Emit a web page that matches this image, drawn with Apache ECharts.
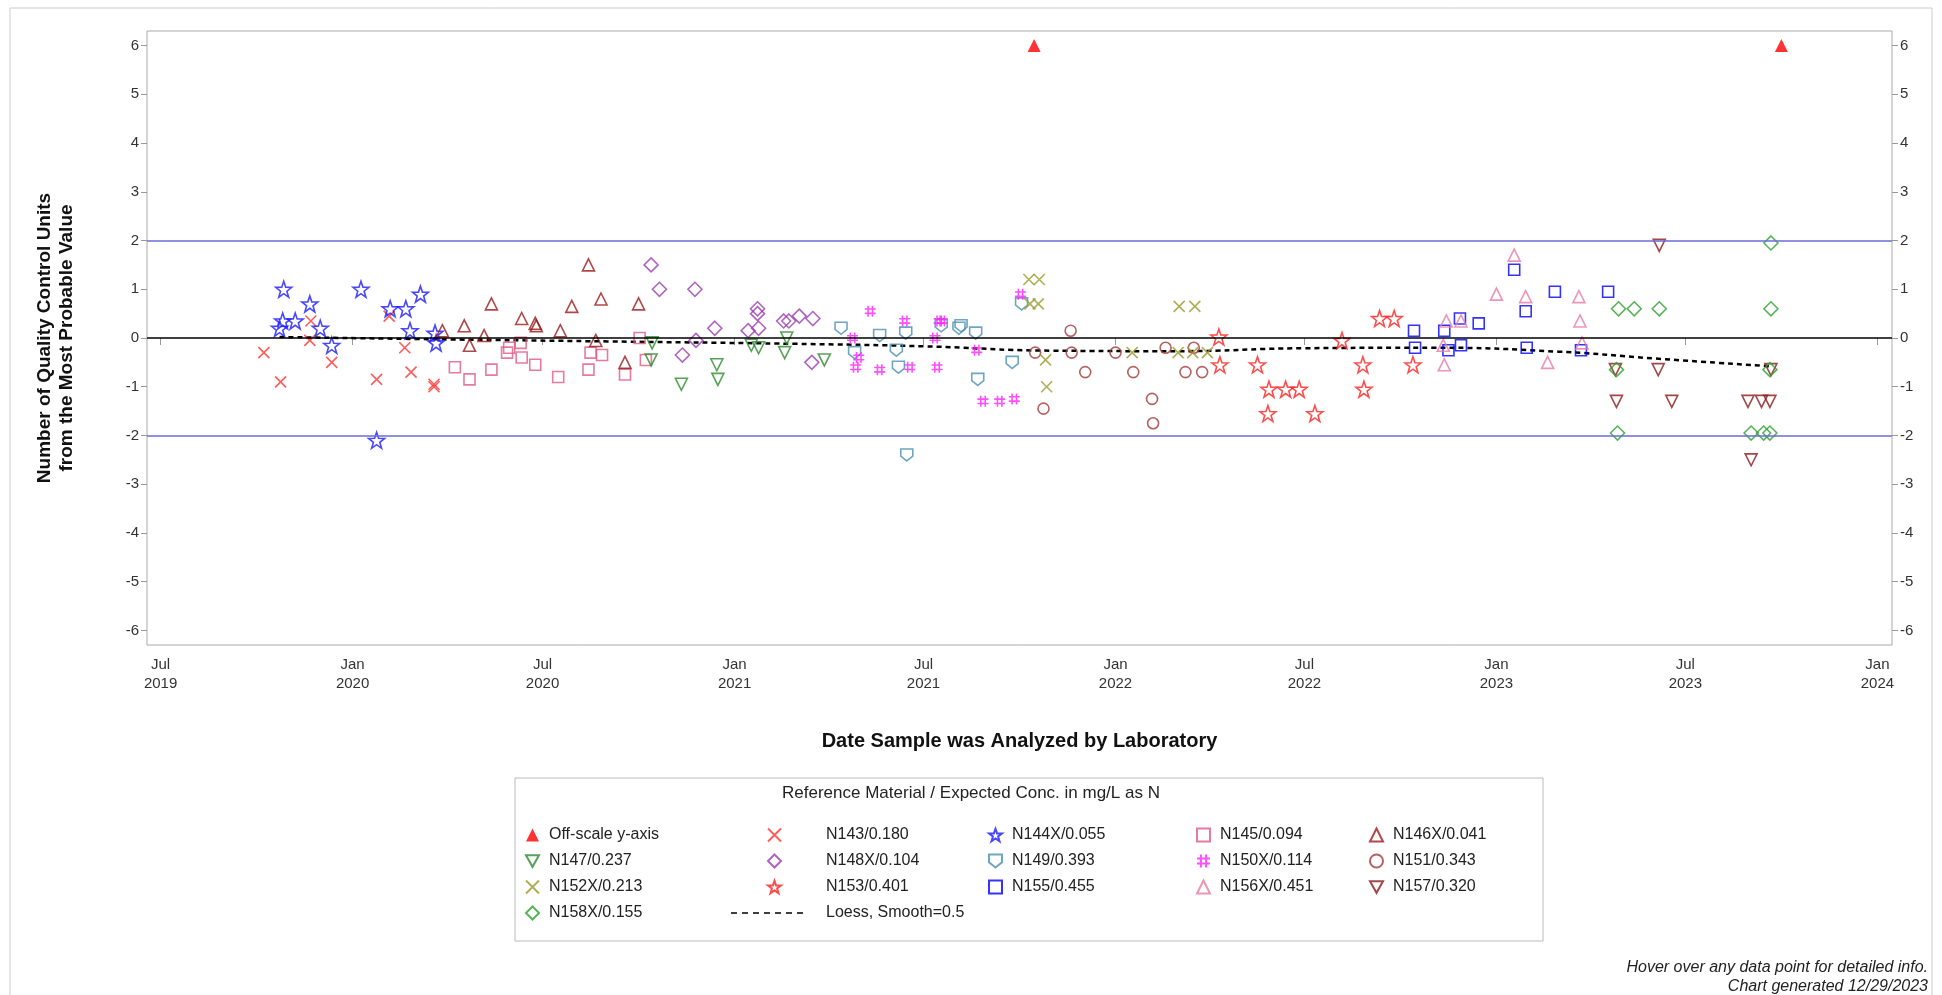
<!DOCTYPE html>
<html>
<head>
<meta charset="utf-8">
<script src="https://cdn.jsdelivr.net/npm/echarts@6/dist/echarts.min.js"></script>
<style>
  html, body { margin: 0; padding: 0; background: #fff; }
  #chart { width: 1942px; height: 995px; }
</style>
</head>
<body>
<div id="chart"></div>
<script>
// data: [date analyzed, QC units from MPV]
var offScale = [['2021-10-15', 6], ['2023-10-01', 6]];
var n143 = [['2019-10-08', -0.3], ['2019-10-24', -0.9], ['2019-11-22', 0.35], ['2019-11-21', -0.05], ['2019-12-12', -0.5],
  ['2020-01-24', -0.85], ['2020-02-05', 0.45], ['2020-02-20', -0.2], ['2020-02-26', -0.7], ['2020-03-19', -1.0], ['2020-03-19', -0.95]];
var n144x = [['2019-10-23', 0.2], ['2019-10-26', 0.35], ['2019-10-27', 1.0], ['2019-11-07', 0.35], ['2019-11-21', 0.7],
  ['2019-12-01', 0.2], ['2019-12-12', -0.15], ['2020-01-09', 1.0], ['2020-01-24', -2.1], ['2020-02-06', 0.6],
  ['2020-02-21', 0.6], ['2020-03-06', 0.9], ['2020-02-25', 0.15], ['2020-03-20', 0.1], ['2020-03-21', -0.1]];
var n145 = [['2020-04-08', -0.6], ['2020-04-22', -0.85], ['2020-05-13', -0.65], ['2020-05-28', -0.3], ['2020-05-30', -0.2],
  ['2020-06-11', -0.4], ['2020-06-24', -0.55], ['2020-07-16', -0.8], ['2020-08-14', -0.65], ['2020-08-16', -0.3],
  ['2020-08-27', -0.35], ['2020-09-18', -0.75], ['2020-10-02', 0], ['2020-10-08', -0.45], ['2020-06-10', -0.1]];
var n146x = [['2020-03-27', 0.15], ['2020-04-17', 0.25], ['2020-04-22', -0.15], ['2020-05-06', 0.05], ['2020-05-13', 0.7],
  ['2020-06-11', 0.4], ['2020-06-24', 0.3], ['2020-06-25', 0.25], ['2020-07-18', 0.15], ['2020-07-29', 0.65],
  ['2020-08-14', 1.5], ['2020-08-21', -0.05], ['2020-08-26', 0.8], ['2020-09-18', -0.5], ['2020-10-01', 0.7]];
var n147 = [['2020-10-13', -0.45], ['2020-11-11', -0.95], ['2020-12-15', -0.55], ['2020-12-16', -0.85], ['2021-01-17', -0.15],
  ['2021-01-24', -0.2], ['2021-02-18', -0.3], ['2021-02-20', 0], ['2021-03-28', -0.45], ['2020-10-14', -0.1]];
var n148x = [['2020-10-13', 1.5], ['2020-10-21', 1.0], ['2020-11-12', -0.35], ['2020-11-24', 1.0], ['2020-11-25', -0.05],
  ['2020-12-13', 0.2], ['2021-01-14', 0.15], ['2021-01-23', 0.6], ['2021-01-23', 0.5], ['2021-01-24', 0.2],
  ['2021-02-17', 0.35], ['2021-02-22', 0.35], ['2021-03-04', 0.45], ['2021-03-16', -0.5], ['2021-03-17', 0.4]];
var n149 = [['2021-04-13', 0.2], ['2021-04-26', -0.3], ['2021-05-20', 0.05], ['2021-06-05', -0.25], ['2021-06-07', -0.6],
  ['2021-06-14', 0.1], ['2021-06-15', -2.4], ['2021-07-18', 0.25], ['2021-08-04', 0.2], ['2021-08-06', 0.25],
  ['2021-08-20', 0.1], ['2021-08-22', -0.85], ['2021-09-24', -0.5], ['2021-10-03', 0.7]];
var n150x = [['2021-04-24', 0], ['2021-04-27', -0.6], ['2021-04-30', -0.4], ['2021-05-11', 0.55], ['2021-05-20', -0.65],
  ['2021-06-13', 0.35], ['2021-06-18', -0.6], ['2021-07-12', 0], ['2021-07-14', -0.6], ['2021-07-16', 0.35],
  ['2021-07-19', 0.35], ['2021-08-21', -0.25], ['2021-08-27', -1.3], ['2021-09-12', -1.3], ['2021-09-26', -1.25], ['2021-10-02', 0.9]];
var n151 = [['2021-10-16', -0.3], ['2021-10-24', -1.45], ['2021-11-19', 0.15], ['2021-11-20', -0.3], ['2021-12-03', -0.7],
  ['2022-01-01', -0.3], ['2022-01-18', -0.7], ['2022-02-05', -1.25], ['2022-02-06', -1.75], ['2022-02-18', -0.2],
  ['2022-03-09', -0.7], ['2022-03-17', -0.2], ['2022-03-25', -0.7]];
var n152x = [['2021-10-10', 1.2], ['2021-10-20', 1.2], ['2021-10-11', 0.7], ['2021-10-19', 0.7], ['2021-10-26', -0.45],
  ['2021-10-27', -1.0], ['2022-01-17', -0.3], ['2022-03-03', 0.65], ['2022-03-18', 0.65], ['2022-03-02', -0.3],
  ['2022-03-16', -0.3], ['2022-03-30', -0.3]];
var n153 = [['2022-04-10', 0.02], ['2022-04-11', -0.55], ['2022-05-17', -0.55], ['2022-05-27', -1.55], ['2022-05-28', -1.05],
  ['2022-06-13', -1.05], ['2022-06-26', -1.05], ['2022-07-11', -1.55], ['2022-08-06', -0.05], ['2022-08-26', -0.55],
  ['2022-08-27', -1.05], ['2022-09-11', 0.4], ['2022-09-25', 0.4], ['2022-10-13', -0.55]];
var n155 = [['2022-10-14', 0.15], ['2022-10-15', -0.2], ['2022-11-12', 0.15], ['2022-11-16', -0.25], ['2022-11-27', 0.4],
  ['2022-11-28', -0.15], ['2022-12-15', 0.3], ['2023-01-18', 1.4], ['2023-01-29', 0.55], ['2023-01-30', -0.2],
  ['2023-02-26', 0.95], ['2023-03-23', -0.25], ['2023-04-18', 0.95]];
var n156x = [['2022-11-12', -0.55], ['2022-11-14', 0.35], ['2022-11-28', 0.35], ['2023-01-01', 0.9], ['2023-01-18', 1.7],
  ['2023-01-29', 0.85], ['2023-02-19', -0.5], ['2023-03-21', 0.85], ['2023-03-22', 0.35], ['2023-03-24', -0.1], ['2022-11-11', -0.15]];
var n157 = [['2023-04-25', -0.65], ['2023-04-26', -1.3], ['2023-06-05', -0.65], ['2023-06-06', 1.9], ['2023-06-18', -1.3],
  ['2023-08-30', -1.3], ['2023-09-02', -2.5], ['2023-09-12', -1.3], ['2023-09-20', -1.3], ['2023-09-21', -0.65]];
var n158x = [['2023-04-26', -0.65], ['2023-04-27', -1.95], ['2023-04-28', 0.6], ['2023-05-13', 0.6], ['2023-06-06', 0.6],
  ['2023-09-02', -1.95], ['2023-09-14', -1.95], ['2023-09-20', -1.95], ['2023-09-20', -0.65], ['2023-09-21', 0.6], ['2023-09-21', 1.95]];
var loess = [['2019-10-23', 0.02], ['2020-03-01', -0.02], ['2020-09-01', -0.07], ['2021-03-01', -0.12], ['2021-07-01', -0.17],
  ['2021-11-01', -0.26], ['2022-03-01', -0.27], ['2022-07-01', -0.21], ['2022-11-01', -0.2], ['2023-03-01', -0.28],
  ['2023-06-01', -0.42], ['2023-09-20', -0.58]];
var xTicks = ['2019-07-01', '2020-01-01', '2020-07-01', '2021-01-01', '2021-07-01', '2022-01-01', '2022-07-01',
  '2023-01-01', '2023-07-01', '2024-01-01'];
var yTicks = [-6, -5, -4, -3, -2, -1, 0, 1, 2, 3, 4, 5, 6];

function toPts(arr) {
  return arr.map(function (d) { return [Date.parse(d[0]), d[1]]; });
}

var P_X = 'path://M0 0L10 10M10 0L0 10';
var P_HASH = 'path://M3 0L3 10M7 0L7 10M0 3L10 3M0 7L10 7';
var P_STAR = 'path://M50 2L61.8 35.8L97.6 36.5L69 58.2L79.4 92.5L50 72L20.6 92.5L31 58.2L2.4 36.5L38.2 35.8Z';
var P_DOWN = 'path://M0 0L10 0L5 9Z';
var P_SHIELD = 'path://M0 0L10 0L10 6L5 10L0 6Z';

function sc(name, data, symbol, color, size, filled) {
  return {
    name: name,
    type: 'scatter',
    data: toPts(data),
    symbol: symbol,
    symbolSize: size || 13,
    itemStyle: filled ? { color: color } : { color: 'rgba(0,0,0,0)', borderColor: color, borderWidth: 1.6 }
  };
}

var font = 'Liberation Sans';
var narrow = '"Liberation Sans Narrow", "Liberation Sans", sans-serif';
var yLabel = { customValues: yTicks, color: '#333', fontSize: 15, fontFamily: font };
var yTick = { customValues: yTicks, lineStyle: { color: '#999' }, length: 6 };
var pad = { padding: [0, 0, 0, 40] };

var option = {
  backgroundColor: '#fff',
  animation: false,
  grid: { left: 147, right: 50, top: 31, bottom: 350, show: true, borderColor: '#aaa', borderWidth: 1 },
  xAxis: {
    type: 'value',
    min: Date.parse('2019-06-18'),
    max: Date.parse('2024-01-15'),
    name: 'Date Sample was Analyzed by Laboratory',
    nameLocation: 'middle',
    nameGap: 86,
    nameTextStyle: { fontSize: 20, fontWeight: 'bold', color: '#111', fontFamily: narrow },
    axisLine: { show: false },
    splitLine: { show: false },
    axisTick: { customValues: xTicks.map(Date.parse), lineStyle: { color: '#999' }, length: 7 },
    axisLabel: {
      customValues: xTicks.map(Date.parse),
      color: '#333', fontSize: 15, fontFamily: font, lineHeight: 19, margin: 10,
      formatter: function (v) {
        var d = new Date(v);
        return d.getUTCMonth() === 0 ? 'Jan\n' + d.getUTCFullYear() : 'Jul\n' + d.getUTCFullYear();
      }
    }
  },
  yAxis: [{
    type: 'value', min: -6.3, max: 6.3, position: 'left',
    name: 'Number of Quality Control Units\nfrom the Most Probable Value',
    nameLocation: 'middle', nameGap: 69,
    nameTextStyle: { fontSize: 19, fontWeight: 'bold', color: '#111', fontFamily: narrow, lineHeight: 22 },
    axisLine: { show: false }, splitLine: { show: false },
    axisTick: yTick, axisLabel: yLabel
  }, {
    type: 'value', min: -6.3, max: 6.3, position: 'right',
    axisLine: { show: false }, splitLine: { show: false },
    axisTick: yTick, axisLabel: yLabel
  }],
  legend: [
    { data: ['Off-scale y-axis', 'N147/0.237', 'N152X/0.213', 'N158X/0.155'], left: 520 },
    { data: [{ name: 'N143/0.180', textStyle: pad }, { name: 'N148X/0.104', textStyle: pad },
      { name: 'N153/0.401', textStyle: pad },
      { name: 'Loess, Smooth=0.5', icon: 'rect', itemStyle: { color: 'rgba(0,0,0,0)' }, textStyle: pad }], left: 762 },
    { data: ['N144X/0.055', 'N149/0.393', 'N155/0.455'], left: 983 },
    { data: ['N145/0.094', 'N150X/0.114', 'N156X/0.451'], left: 1191 },
    { data: ['N146X/0.041', 'N151/0.343', 'N157/0.320'], left: 1364 }
  ].map(function (l) {
    return {
      data: l.data, left: l.left, top: 822, orient: 'vertical',
      itemWidth: 13, itemHeight: 13, itemGap: 10,
      textStyle: { fontSize: 16, color: '#222', fontFamily: narrow, padding: [0, 0, 0, 5] },
      selectedMode: false
    };
  }),
  graphic: [
    { type: 'rect', shape: { x: 10, y: 8, width: 1922, height: 1000 }, style: { fill: 'none', stroke: '#ccc', lineWidth: 1 }, silent: true },
    { type: 'rect', shape: { x: 515, y: 778, width: 1028, height: 163 }, style: { fill: 'none', stroke: '#bbb', lineWidth: 1 }, silent: true },
    { type: 'line', shape: { x1: 731, y1: 913, x2: 808, y2: 913 }, style: { stroke: '#000', lineWidth: 1.5, lineDash: [6, 5] }, silent: true },
    { type: 'text', left: 'center', top: 785, style: { text: 'Reference Material / Expected Conc. in mg/L as N', fontSize: 17, fill: '#222', fontFamily: narrow }, z: 10 },
    { type: 'text', right: 14, top: 960, style: { text: 'Hover over any data point for detailed info.', fontSize: 16, fontStyle: 'italic', fill: '#222', fontFamily: font, textAlign: 'right' } },
    { type: 'text', right: 14, top: 979, style: { text: 'Chart generated 12/29/2023', fontSize: 16, fontStyle: 'italic', fill: '#222', fontFamily: font, textAlign: 'right' } }
  ],
  series: [
    sc('Off-scale y-axis', offScale, 'triangle', '#ff0000', 13, true),
    sc('N143/0.180', n143, P_X, '#ff3333', 11),
    sc('N144X/0.055', n144x, P_STAR, '#1a1aff', 16),
    sc('N145/0.094', n145, 'rect', '#e05a85', 11),
    sc('N146X/0.041', n146x, 'triangle', '#9b1c1c', 12),
    sc('N147/0.237', n147, P_DOWN, '#2e8b2e', 12),
    sc('N148X/0.104', n148x, 'diamond', '#9b3fb0', 14),
    sc('N149/0.393', n149, P_SHIELD, '#4a90b0', 12),
    sc('N150X/0.114', n150x, P_HASH, '#ff22ff', 11),
    sc('N151/0.343', n151, 'circle', '#a33a3a', 11),
    sc('N152X/0.213', n152x, P_X, '#9a9a2a', 11),
    sc('N153/0.401', n153, P_STAR, '#ff2020', 16),
    sc('N155/0.455', n155, 'rect', '#0000ff', 11),
    sc('N156X/0.451', n156x, 'triangle', '#e87aa8', 12),
    sc('N157/0.320', n157, P_DOWN, '#8b1a1a', 12),
    sc('N158X/0.155', n158x, 'diamond', '#2ea02e', 14),
    {
      name: 'Loess, Smooth=0.5',
      type: 'line',
      data: toPts(loess),
      smooth: true,
      showSymbol: false,
      symbol: 'none',
      z: 1,
      lineStyle: { color: '#000', width: 2.5, type: [5, 4] },
      itemStyle: { color: '#000' },
      markLine: {
        silent: true, symbol: 'none', label: { show: false },
        data: [
          { yAxis: 2, lineStyle: { color: '#6b6bd6', type: 'solid', width: 1.5 } },
          { yAxis: -2, lineStyle: { color: '#6b6bd6', type: 'solid', width: 1.5 } },
          { yAxis: 0, lineStyle: { color: '#000', type: 'solid', width: 1.5 } }
        ]
      }
    }
  ]
};

var chart = echarts.init(document.getElementById('chart'));
chart.setOption(option);
</script>
</body>
</html>
